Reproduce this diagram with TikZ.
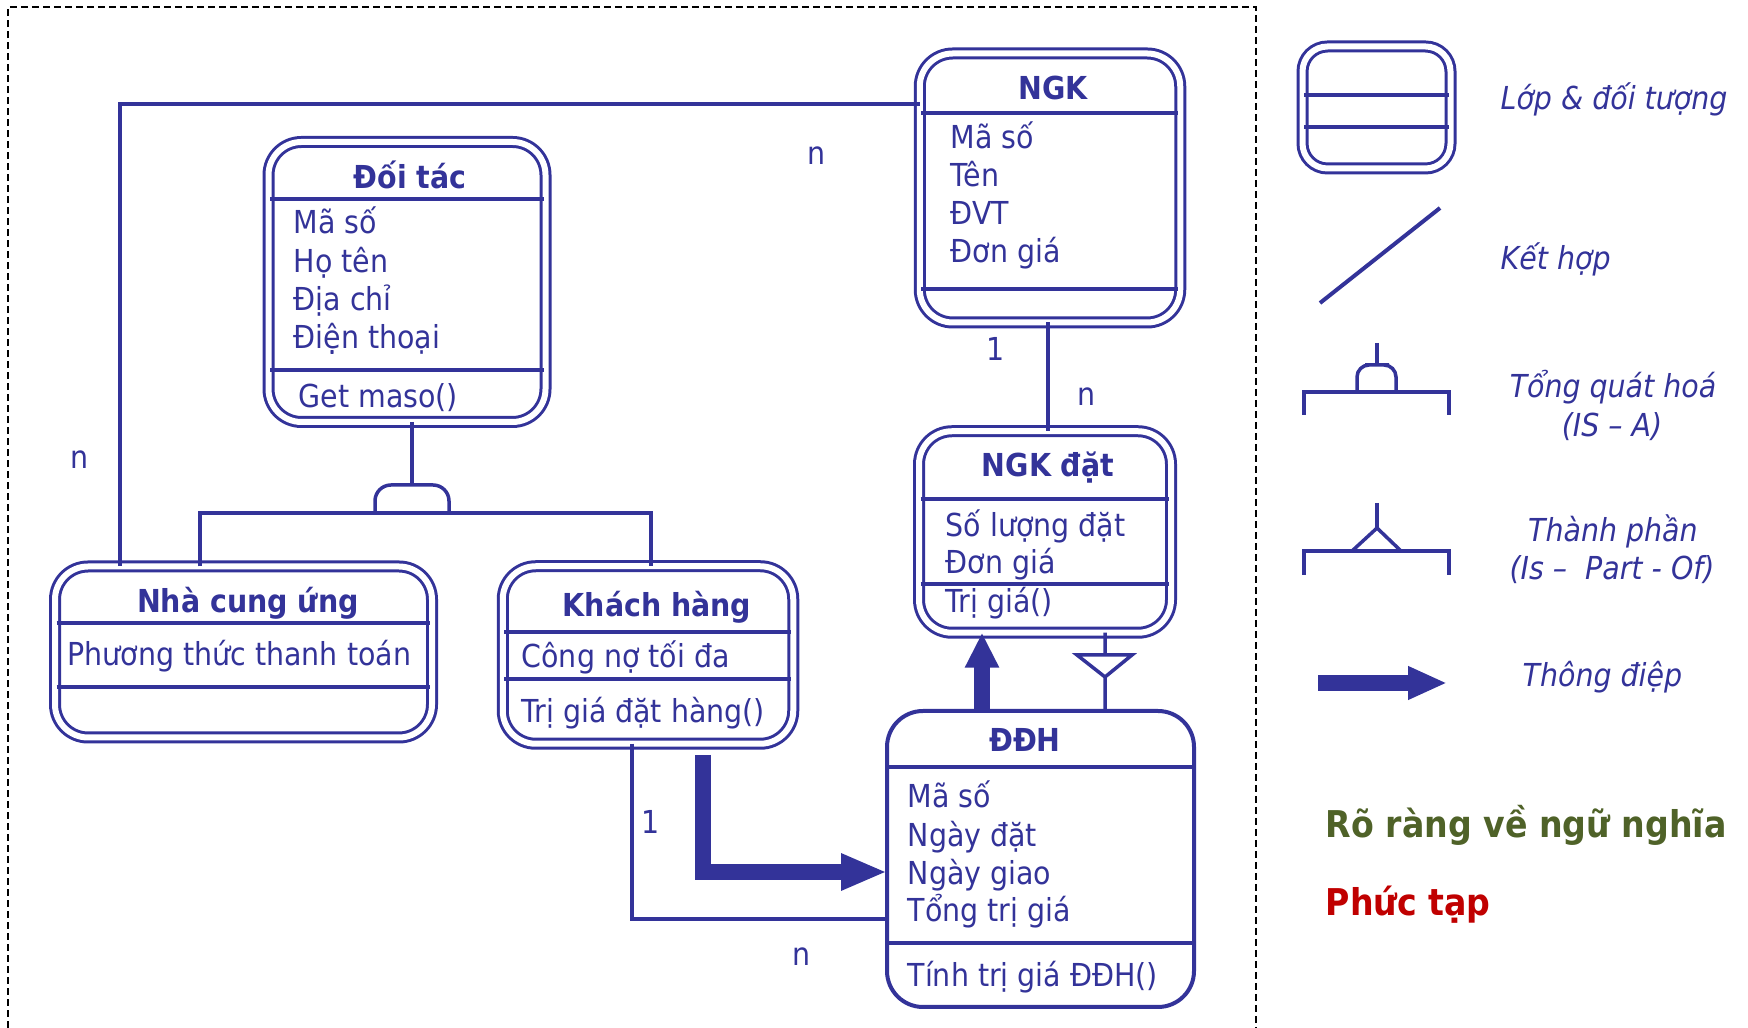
\documentclass[tikz,border=0pt]{standalone}
\usepackage{fontspec}
\setmainfont{DejaVu Sans Condensed}
\usepackage{tikz}
\usetikzlibrary{arrows.meta}
\definecolor{umlblue}{RGB}{51,51,153}
\definecolor{semgreen}{RGB}{79,98,40}
\definecolor{semred}{RGB}{192,0,0}

\begin{document}
\begin{tikzpicture}[x=0.1mm,y=-0.1mm,
    classbox/.style={draw=umlblue, line width=0.3mm, double=white, double distance=0.6mm, rounded corners=3.3mm, inner sep=0pt, outer sep=0pt},
    plainbox/.style={draw=umlblue, line width=0.4mm, rounded corners=3.6mm, inner sep=0pt, outer sep=0pt},
    divider/.style={umlblue, line width=0.4mm, shorten <=0.15mm, shorten >=0.2mm},
    link/.style={umlblue, line width=0.35mm},
    msg/.style={umlblue, line width=1.65mm, line join=miter},
    title/.style={umlblue, font=\fontsize{9}{11}\selectfont\bfseries, anchor=base, inner sep=0pt},
    attr/.style={umlblue, font=\fontsize{9}{11}\selectfont, anchor=base west, inner sep=0pt},
    card/.style={umlblue, font=\fontsize{9}{11}\selectfont, inner sep=0pt},
    legend/.style={umlblue, font=\fontsize{9}{11}\selectfont\itshape, inner sep=0pt}]
    \useasboundingbox (0,0) rectangle (1748,1028);
    \draw[black, line width=0.15mm, dash pattern=on 0.7mm off 0.4mm] (8,1028) -- (8,7) -- (1256,7) -- (1256,1028);

    \node[classbox, minimum width=26.05mm, minimum height=26.9mm] (ngk) at (1050,188) {};
    \node[classbox, minimum width=27.7mm, minimum height=28mm] (doitac) at (407,282) {};
    \node[classbox, minimum width=37.7mm, minimum height=17.1mm] (ncu) at (243.5,652) {};
    \node[classbox, minimum width=29.05mm, minimum height=17.75mm] (khachhang) at (648,655) {};
    \node[classbox, minimum width=25.2mm, minimum height=20.15mm] (ngkdat) at (1045,532) {};
    \node[plainbox, minimum width=30.7mm, minimum height=29.6mm] (ddh) at (1040.5,859) {};

    \draw[divider] (ngk.west |- 0,113) -- (ngk.east |- 0,113);
    \draw[divider] (ngk.west |- 0,289) -- (ngk.east |- 0,289);
    \draw[divider] (doitac.west |- 0,199) -- (doitac.east |- 0,199);
    \draw[divider] (doitac.west |- 0,370) -- (doitac.east |- 0,370);
    \draw[divider] (ncu.west |- 0,623) -- (ncu.east |- 0,623);
    \draw[divider] (ncu.west |- 0,687) -- (ncu.east |- 0,687);
    \draw[divider] (khachhang.west |- 0,632) -- (khachhang.east |- 0,632);
    \draw[divider] (khachhang.west |- 0,679) -- (khachhang.east |- 0,679);
    \draw[divider] (ngkdat.west |- 0,499) -- (ngkdat.east |- 0,499);
    \draw[divider] (ngkdat.west |- 0,584) -- (ngkdat.east |- 0,584);
    \draw[divider] (ddh.west |- 0,767) -- (ddh.east |- 0,767);
    \draw[divider] (ddh.west |- 0,943) -- (ddh.east |- 0,943);

    \node[title] (ngk-t) at (1053,100) {NGK};
    \node[attr] (ngk-a1) at (950,149) {Mã số};
    \node[attr] (ngk-a2) at (950,187) {Tên};
    \node[attr] (ngk-a3) at (950,225) {ĐVT};
    \node[attr] (ngk-a4) at (950,263) {Đơn giá};

    \node[title] (doitac-t) at (410,189) {Đối tác};
    \node[attr] (doitac-a1) at (293,234) {Mã số};
    \node[attr] (doitac-a2) at (293,273) {Họ tên};
    \node[attr] (doitac-a3) at (293,311) {Địa chỉ};
    \node[attr] (doitac-a4) at (293,349) {Điện thoại};
    \node[attr] (doitac-m1) at (298,408) {Get maso()};

    \node[title] (ncu-t) at (248,613) {Nhà cung ứng};
    \node[attr] (ncu-a1) at (67,666) {Phương thức thanh toán};

    \node[title] (khachhang-t) at (657,617) {Khách hàng};
    \node[attr] (khachhang-a1) at (521,668) {Công nợ tối đa};
    \node[attr] (khachhang-m1) at (521,723) {Trị giá đặt hàng()};

    \node[title] (ngkdat-t) at (1048,477) {NGK đặt};
    \node[attr] (ngkdat-a1) at (945,537) {Số lượng đặt};
    \node[attr] (ngkdat-a2) at (945,574) {Đơn giá};
    \node[attr] (ngkdat-m1) at (945,613) {Trị giá()};

    \node[title] (ddh-t) at (1025,752) {ĐĐH};
    \node[attr] (ddh-a1) at (907,808) {Mã số};
    \node[attr] (ddh-a2) at (907,847) {Ngày đặt};
    \node[attr] (ddh-a3) at (907,885) {Ngày giao};
    \node[attr] (ddh-a4) at (907,922) {Tổng trị giá};
    \node[attr] (ddh-m1) at (907,987) {Tính trị giá ĐĐH()};

    \draw[link] (ngk.west |- 0,104) -| (120,0 |- ncu.north);
    \draw[link] (412,0 |- doitac.south) -- (412,485);
    \draw[link, rounded corners=1.6mm] (375,513) |- (412,485) -| (449,513);
    \draw[link] (200,0 |- ncu.north) |- (651,513) -- (651,0 |- khachhang.north);
    \draw[link] (1048,0 |- ngk.south) -- (1048,0 |- ngkdat.north);
    \draw[link] (632,0 |- khachhang.south) |- (ddh.west |- 0,919);
    \draw[link, line join=miter] (1105,0 |- ngkdat.south) -- (1105,655) (1077,655) -- (1132,655) -- (1105,677) -- cycle (1105,677) -- (1105,0 |- ddh.north);
    \coordinate (msgstart) at (703,755);
    \draw[msg, -{Triangle[length=4.6mm,width=3.4mm]}] (msgstart) |- (ddh.west |- 0,872);
    \draw[msg, -{Triangle[length=3.5mm,width=3.2mm]}] (982,0 |- ddh.north) -- (982,0 |- ngkdat.south);

    \node[card] (card-ngk-ncu) at (817,156) {n};
    \node[card] (card-ncu-ngk) at (80,460) {n};
    \node[card] (card-ngk-dat) at (996,349) {1};
    \node[card] (card-dat-ngk) at (1087,397) {n};
    \node[card] (card-kh-ddh) at (651,822) {1};
    \node[card] (card-ddh-kh) at (802,957) {n};

    \node[classbox, rounded corners=2.5mm, minimum width=14.8mm, minimum height=12.2mm] (lgclass) at (1376.5,107.5) {};
    \draw[divider] (lgclass.west |- 0,95) -- (lgclass.east |- 0,95);
    \draw[divider] (lgclass.west |- 0,127) -- (lgclass.east |- 0,127);
    \draw[link, line width=0.4mm] (1320,303) -- (1440,208);
    \draw[link] (1377,343) -- (1377,365);
    \draw[link, rounded corners=1.2mm] (1357,392) |- (1377,365) -| (1396,392);
    \draw[link] (1304,415) |- (1449,392) -- (1449,415);
    \draw[link] (1377,503) -- (1377,528);
    \draw[link] (1352,551) -- (1377,528) -- (1401,551);
    \draw[link] (1304,575) |- (1449,551) -- (1449,575);
    \draw[msg, -{Triangle[length=3.9mm,width=3.1mm]}] (1318,683) -- (1447,683);

    \node[legend, anchor=base west] (lg-class) at (1500,110) {Lớp \& đối tượng};
    \node[legend, anchor=base west] (lg-assoc) at (1500,270) {Kết hợp};
    \node[legend, anchor=base] (lg-gen) at (1613,398) {Tổng quát hoá};
    \node[legend, anchor=base] (lg-gen2) at (1612,437) {(IS – A)};
    \node[legend, anchor=base] (lg-part) at (1613,542) {Thành phần};
    \node[legend, anchor=base] (lg-part2) at (1612,580) {(Is –\ \ Part - Of)};
    \node[legend, anchor=base west] (lg-msg) at (1522,687) {Thông điệp};
    \node[semgreen, font=\fontsize{10.5}{12}\selectfont\bfseries, anchor=base west, inner sep=0pt] (clear) at (1325,838) {Rõ ràng về ngữ nghĩa};
    \node[semred, font=\fontsize{10.5}{12}\selectfont\bfseries, anchor=base west, inner sep=0pt] (complex) at (1325,916) {Phức tạp};
\end{tikzpicture}
\end{document}
